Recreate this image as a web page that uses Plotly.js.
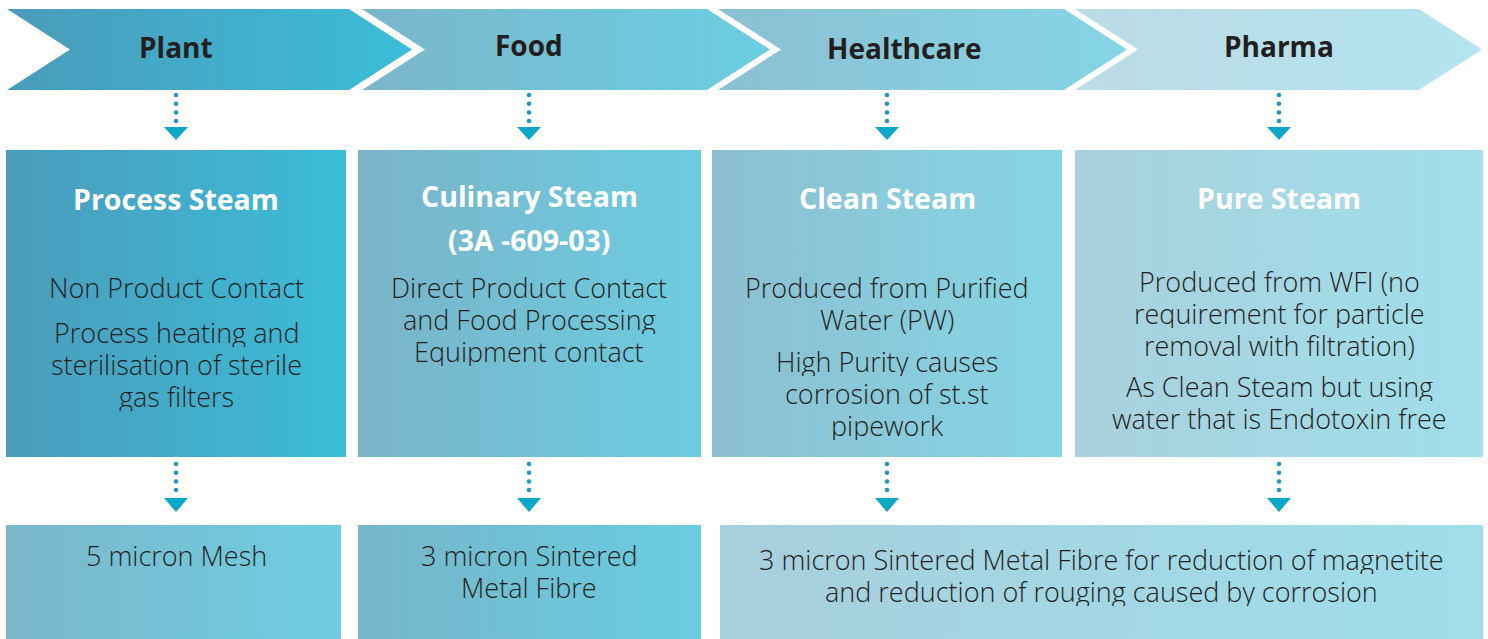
<!DOCTYPE html>
<html>
<head>
<meta charset="utf-8">
<script src="https://cdn.plot.ly/plotly-3.0.1.min.js"></script>
<style>html,body{margin:0;padding:0;background:#fff;}#chart{width:1488px;height:639px;}</style>
</head>
<body>
<div id="chart"></div>
<script>
// ---------------- DATA ----------------
const sectors = ['Plant', 'Food', 'Healthcare', 'Pharma'];
const steamTypes = [
  ['Process Steam'],
  ['Culinary Steam', '(3A -609-03)'],
  ['Clean Steam'],
  ['Pure Steam']
];
const descriptions = [
  [['Non Product Contact'], ['Process heating and', 'sterilisation of sterile', 'gas filters']],
  [['Direct Product Contact', 'and Food Processing', 'Equipment contact']],
  [['Produced from Purified', 'Water (PW)'], ['High Purity causes', 'corrosion of st.st', 'pipework']],
  [['Produced from WFI (no', 'requirement for particle', 'removal with filtration)'], ['As Clean Steam but using', 'water that is Endotoxin free']]
];
const filtration = [
  ['5 micron Mesh'],
  ['3 micron Sintered', 'Metal Fibre'],
  ['3 micron Sintered Metal Fibre for reduction of magnetite', 'and reduction of rouging caused by corrosion']
];

// ---------------- LAYOUT GEOMETRY ----------------
const W = 1488, H = 639;
const chevLeft = [7, 362, 718, 1075];
const chevRight = [349, 707, 1064, 1419];
const chevDepth = 63, chevTop = 9, chevBot = 90;
const labelX = [176, 529, 904, 1279];
const labelY = [47, 45, 48, 46];

const boxL = [6, 358, 712, 1075];
const boxR = [346, 701, 1062, 1483];
const boxTop = 150, boxBot = 457;
const colX = [176, 529, 887, 1279];
const headY = [[199], [196, 240], [198], [198]];
const paraY = [[287, 332], [287], [287, 361], [281, 386]];
const lineStep = 32;

const botL = [6, 358, 720];
const botR = [341, 701, 1483];
const botTop = 525, botBot = 645;
const botX = [176, 529, 1101];
const botY = [555, 555, 559];

const topArrow = {dot0: 95, dotN: 4, tri0: 127, tri1: 140};
const botArrow = {dot0: 464, dotN: 4, tri0: 498, tri1: 512};

// ---------------- STYLES ----------------
const chevColors = [['#4a9bba', '#3bbdd9'], ['#7bb6ca', '#6bcee2'], ['#8bc0d2', '#84d5e6'], ['#bcdbe5', '#b3e4ef']];
const boxColors = [['#4b9cbb', '#3bbcd8'], ['#7ab4c9', '#6ccce0'], ['#8cbfd1', '#86d5e5'], ['#a9d0dd', '#a0dfeb']];
const botColors = [['#7bb7cb', '#6fcde1'], ['#77b5ca', '#69cde0'], ['#a8cfdd', '#9fdeeb']];
const dotColor = '#1d97bc', triColor = '#0aa7c8', textDark = '#231f20';
const FONT = '"Open Sans", Lato, sans-serif';

const traces = [];
function poly(xs, ys, cols) {
  traces.push({
    type: 'scatter', mode: 'lines', x: xs.concat([xs[0]]), y: ys.concat([ys[0]]),
    fill: 'toself', line: {width: 0, color: 'rgba(0,0,0,0)'},
    fillcolor: cols[1],
    fillgradient: {type: 'horizontal', colorscale: [[0, cols[0]], [1, cols[1]]]},
    hoverinfo: 'skip', showlegend: false
  });
}
const mid = (chevTop + chevBot) / 2;
sectors.forEach((s, i) => {
  const l = chevLeft[i], r = chevRight[i];
  poly([l, r, r + chevDepth, r, l, l + chevDepth], [chevTop, chevTop, mid, chevBot, chevBot, mid], chevColors[i]);
});
boxL.forEach((l, i) => poly([l, boxR[i], boxR[i], l], [boxTop, boxTop, boxBot, boxBot], boxColors[i]));
botL.forEach((l, i) => poly([l, botR[i], botR[i], l], [botTop, botTop, botBot, botBot], botColors[i]));

const shapes = [];
function arrow(x, a) {
  const dx = [], dy = [];
  for (let k = 0; k < a.dotN; k++) { dx.push(x); dy.push(a.dot0 + k * 8.7); }
  traces.push({type: 'scatter', mode: 'markers', x: dx, y: dy,
    marker: {size: 4.5, color: dotColor}, hoverinfo: 'skip', showlegend: false});
  shapes.push({type: 'path', path: `M ${x - 12} ${a.tri0} L ${x + 12} ${a.tri0} L ${x} ${a.tri1} Z`,
    fillcolor: triColor, line: {width: 0}, xref: 'x', yref: 'y'});
}
colX.forEach(x => { arrow(x, topArrow); arrow(x, botArrow); });

const annotations = [];
function txt(x, y, t, size, color, weight, h) {
  const a = {x: x, y: y, xref: 'x', yref: 'y', text: t, showarrow: false,
    xanchor: 'center', yanchor: 'middle', borderpad: 0,
    font: {family: FONT, size: size, color: color, weight: weight}};
  if (h) { a.height = h; a.valign = 'middle'; }
  annotations.push(a);
}
sectors.forEach((s, i) => txt(labelX[i], labelY[i], s, 28, textDark, 700));
steamTypes.forEach((lines, i) => lines.forEach((t, k) => txt(colX[i], headY[i][k], t, 28.5, '#ffffff', 700)));
descriptions.forEach((paras, i) => paras.forEach((lines, p) => lines.forEach((t, k) =>
  txt(colX[i], paraY[i][p] + k * lineStep, t, 27, textDark, 300, lineStep - 2))));
filtration.forEach((lines, i) => lines.forEach((t, k) =>
  txt(botX[i], botY[i] + k * lineStep, t, 27, textDark, 300, lineStep - 2)));

const layout = {
  width: W, height: H, margin: {l: 0, r: 0, t: 0, b: 0},
  paper_bgcolor: '#ffffff', plot_bgcolor: '#ffffff', showlegend: false,
  xaxis: {range: [0, W], visible: false, fixedrange: true},
  yaxis: {range: [H, 0], visible: false, fixedrange: true},
  shapes: shapes, annotations: annotations, hovermode: false
};
Plotly.newPlot('chart', traces, layout, {displayModeBar: false, staticPlot: true});
</script>
</body>
</html>
